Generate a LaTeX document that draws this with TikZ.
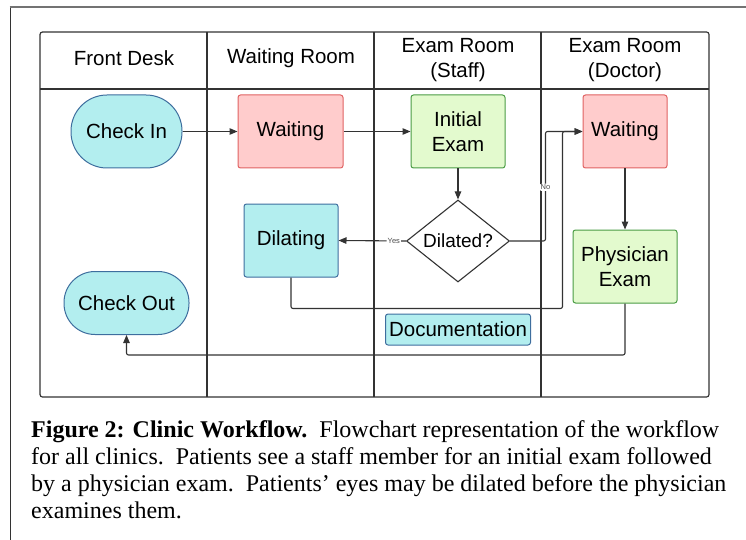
\documentclass[tikz,border=0pt]{standalone}
\usepackage{fontspec}
\setmainfont{Liberation Serif}
\newfontfamily\diagfont{Liberation Sans}
\usetikzlibrary{shapes.geometric,arrows.meta,calc}

\definecolor{cyanfill}{HTML}{B3EEEF}
\definecolor{cyanedge}{HTML}{3E6E9E}
\definecolor{redfill}{HTML}{FFCCCC}
\definecolor{rededge}{HTML}{E06262}
\definecolor{greenfill}{HTML}{E3FACE}
\definecolor{greenedge}{HTML}{4A9C44}
\definecolor{gridline}{HTML}{333333}

\tikzset{
  lanetext/.style={font=\diagfont\fontsize{20.5}{25}\selectfont, align=center, text=black},
  box/.style={draw, line width=1pt, rounded corners=2.5, inner sep=0pt,
              font=\diagfont\fontsize{20.5}{25}\selectfont, align=center},
  terminal/.style={box, fill=cyanfill, draw=cyanedge},
  bluebox/.style={box, fill=cyanfill, draw=cyanedge},
  redbox/.style={box, fill=redfill, draw=rededge},
  greenbox/.style={box, fill=greenfill, draw=greenedge},
  conn/.style={draw=gridline, line width=1.1pt, rounded corners=2,
               -{Triangle[length=8pt,width=6.5pt]}},
  lbl/.style={fill=white, inner sep=1pt, text=black!70,
              font=\diagfont\fontsize{7.5}{9}\selectfont},
  capline/.style={anchor=base west, inner sep=0pt, font=\fontsize{24}{27}\selectfont}
}

\begin{document}
\begin{tikzpicture}[x=1pt,y=-1pt]
\useasboundingbox (0,0) rectangle (746,540);

% page frame
\draw[black!80, line width=1pt] (10,540) -- (10,7.5);
\draw[black!55, line width=2pt] (9.5,7.5) -- (746,7.5);

% swimlane table
\draw[gridline, line width=1.2pt, rounded corners=2.5] (40,32) rectangle (709,397);
\draw[gridline, line width=1.1pt] (40,89) -- (709,89);
\foreach \x in {207,374,541}
  \draw[gridline, line width=1.1pt] (\x,32) -- (\x,397);

\node[lanetext] (h1) at (124,58.5) {Front Desk};
\node[lanetext] (h2) at (291,58.5) {Waiting Room};
\node[lanetext] (h3) at (458,60) {Exam Room\\(Staff)};
\node[lanetext] (h4) at (625,60) {Exam Room\\(Doctor)};

% process steps
\node[terminal, rounded corners=36, minimum width=111, minimum height=73] (ci) at (126.5,131.5) {Check In};
\node[redbox, minimum width=105, minimum height=73] (w1) at (290.5,131.5) {Waiting};
\node[greenbox, minimum width=94, minimum height=73] (ie) at (458,131.5) {Initial\\Exam};
\node[redbox, minimum width=84, minimum height=73] (w2) at (625,131.5) {Waiting};
\node[draw=gridline, line width=1.1pt, diamond, inner sep=0pt,
      minimum width=103, minimum height=82, fill=white] (dil) at (458,241) {};
\node[font=\diagfont\fontsize{19}{23}\selectfont] (diltext) at (dil.center) {Dilated?};
\node[bluebox, minimum width=94, minimum height=73] (dl) at (291,240.5) {Dilating};
\node[greenbox, minimum width=104, minimum height=73] (pe) at (625,266.5) {Physician\\Exam};
\node[terminal, rounded corners=31, minimum width=125, minimum height=63] (co) at (126.5,303) {Check Out};
\node[bluebox, minimum width=145, minimum height=31] (doc) at (458,329.5) {Documentation};

% flow
\draw[conn] (ci) -- (w1);
\draw[conn] (w1) -- (ie);
\draw[conn] (ie) -- (dil);
\draw[conn] (w2) -- (pe);
\draw[conn] (dil.west) -- node[lbl, pos=0.18] {Yes} (dl.east);
\draw[conn] (dil.east) -| node[lbl, pos=0.745] {No} ($(w2.west)+(-37,0)$) -- (w2.west);
\draw[conn] (dl.south) |- ($(w2.west)+(-20,177)$) -- ($(w2.west)+(-20,0)$) -- (w2.west);
\draw[conn] (pe.south) |- ($(co.south)+(0,20)$) -- (co.south);

% caption
\node[capline] (cap1) at (31,437.5)
  {\textbf{Figure 2: Clinic Workflow.}\ \ Flowchart representation of the workflow};
\node[capline] (cap2) at (31,464.5)
  {for all clinics.\ \ Patients see a staff member for an initial exam followed};
\node[capline] (cap3) at (31,491.5)
  {by a physician exam.\ \ Patients’ eyes may be dilated before the physician};
\node[capline] (cap4) at (31,518.5)
  {examines them.};
\end{tikzpicture}
\end{document}
